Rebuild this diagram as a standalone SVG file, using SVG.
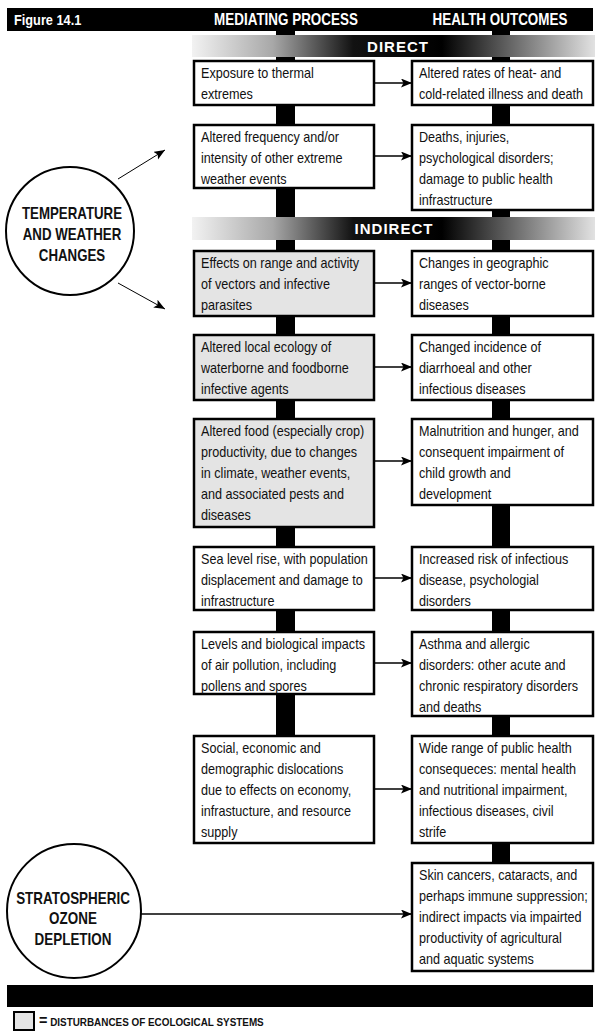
<svg xmlns="http://www.w3.org/2000/svg" width="600" height="1035" viewBox="0 0 600 1035">
<style>
.bx{stroke:#000;stroke-width:2.5;fill:#fff}
.eco{fill:#e4e4e4}
.t{font-family:"Liberation Sans",Arial,sans-serif;font-size:14.5px;fill:#111}
.hd{font-family:"Liberation Sans",Arial,sans-serif;font-weight:bold;fill:#fff}
.ct{font-family:"Liberation Sans",Arial,sans-serif;font-weight:bold;font-size:16px;fill:#111;text-anchor:middle}
.bn{font-family:"Liberation Sans",Arial,sans-serif;font-weight:bold;font-size:15px;fill:#fff;text-anchor:middle;letter-spacing:1px}
.ar{stroke:#000;stroke-width:1.4;fill:none;marker-end:url(#ah)}
.ar2{stroke:#000;stroke-width:1;fill:none;marker-end:url(#ah)}
.spine{fill:#000}
</style>
<defs>
<marker id="ah" markerUnits="userSpaceOnUse" markerWidth="12" markerHeight="10" refX="11" refY="4.5" orient="auto">
<path d="M0,0 L11,4.5 L0,9 L2.5,4.5 z" fill="#000"/>
</marker>
<linearGradient id="bg" gradientUnits="userSpaceOnUse" x1="192" y1="0" x2="595" y2="0">
<stop offset="0" stop-color="#f2f2f2"/>
<stop offset="0.2" stop-color="#a8a8a8"/>
<stop offset="0.4" stop-color="#121212"/>
<stop offset="0.62" stop-color="#000"/>
<stop offset="1" stop-color="#e2e2e2"/>
</linearGradient>
</defs>
<rect width="600" height="1035" fill="#fff"/>

<g id="connectors">
<rect class="spine" x="276" y="30" width="19" height="706"/>
<rect class="spine" x="492" y="30" width="18" height="833"/>
<line class="ar2" x1="118" y1="179" x2="165" y2="150"/>
<line class="ar2" x1="118" y1="283" x2="165" y2="309"/>
<line class="ar" x1="374" y1="83" x2="412" y2="83"/>
<line class="ar" x1="374" y1="156" x2="412" y2="156"/>
<line class="ar" x1="374" y1="283" x2="412" y2="283"/>
<line class="ar" x1="374" y1="367" x2="412" y2="367"/>
<line class="ar" x1="374" y1="461" x2="412" y2="461"/>
<line class="ar" x1="374" y1="578" x2="412" y2="578"/>
<line class="ar" x1="374" y1="663" x2="412" y2="663"/>
<line class="ar" x1="374" y1="789" x2="412" y2="789"/>
<line class="ar" x1="141" y1="914" x2="412" y2="914"/>
</g>

<g id="header">
<rect x="7" y="8" width="586" height="23" fill="#000"/>
<text class="hd" font-size="15" transform="translate(14,25) scale(0.85,1)">Figure 14.1</text>
<text class="hd" font-size="16" text-anchor="middle" transform="translate(286,25) scale(0.84,1)">MEDIATING PROCESS</text>
<text class="hd" font-size="16" text-anchor="middle" transform="translate(500,25) scale(0.84,1)">HEALTH OUTCOMES</text>
</g>

<g id="banner-direct">
<rect x="192" y="35" width="403" height="22" fill="url(#bg)"/>
<text class="bn" x="398" y="52">DIRECT</text>
</g>
<g id="banner-indirect">
<rect x="192" y="217" width="403" height="23" fill="url(#bg)"/>
<text class="bn" x="394" y="234">INDIRECT</text>
</g>

<g id="circle-temperature">
<circle cx="70" cy="231" r="64" fill="#fff" stroke="#000" stroke-width="2"/>
<text class="ct" transform="translate(72,219) scale(0.83,1)"><tspan x="0" y="0">TEMPERATURE</tspan><tspan x="0" y="21">AND WEATHER</tspan><tspan x="0" y="42">CHANGES</tspan></text>
</g>
<g id="circle-ozone">
<circle cx="74" cy="911" r="67" fill="#fff" stroke="#000" stroke-width="2"/>
<text class="ct" transform="translate(73,904) scale(0.84,1)"><tspan x="0" y="0">STRATOSPHERIC</tspan><tspan x="0" y="20.5">OZONE</tspan><tspan x="0" y="41">DEPLETION</tspan></text>
</g>

<g id="m-exposure">
<rect class="bx" x="194" y="61" width="180" height="44"/>
<text class="t" transform="translate(201,78) scale(0.87,1)"><tspan x="0" y="0">Exposure to thermal</tspan><tspan x="0" y="21">extremes</tspan></text>
</g>
<g id="m-extreme">
<rect class="bx" x="194" y="125" width="180" height="63"/>
<text class="t" transform="translate(201,142) scale(0.87,1)"><tspan x="0" y="0">Altered frequency and/or</tspan><tspan x="0" y="21">intensity of other extreme</tspan><tspan x="0" y="42">weather events</tspan></text>
</g>
<g id="m-vectors">
<rect class="bx eco" x="194" y="251" width="180" height="65"/>
<text class="t" transform="translate(201,268) scale(0.87,1)"><tspan x="0" y="0">Effects on range and activity</tspan><tspan x="0" y="21">of vectors and infective</tspan><tspan x="0" y="42">parasites</tspan></text>
</g>
<g id="m-waterborne">
<rect class="bx eco" x="194" y="335" width="180" height="65"/>
<text class="t" transform="translate(201,352) scale(0.87,1)"><tspan x="0" y="0">Altered local ecology of</tspan><tspan x="0" y="21">waterborne and foodborne</tspan><tspan x="0" y="42">infective agents</tspan></text>
</g>
<g id="m-food">
<rect class="bx eco" x="194" y="419" width="180" height="108"/>
<text class="t" transform="translate(201,436) scale(0.87,1)"><tspan x="0" y="0">Altered food (especially crop)</tspan><tspan x="0" y="21">productivity, due to changes</tspan><tspan x="0" y="42">in climate, weather events,</tspan><tspan x="0" y="63">and associated pests and</tspan><tspan x="0" y="84">diseases</tspan></text>
</g>
<g id="m-sealevel">
<rect class="bx" x="194" y="547" width="180" height="63"/>
<text class="t" transform="translate(201,564) scale(0.87,1)"><tspan x="0" y="0">Sea level rise, with population</tspan><tspan x="0" y="21">displacement and damage to</tspan><tspan x="0" y="42">infrastructure</tspan></text>
</g>
<g id="m-airpollution">
<rect class="bx" x="194" y="632" width="180" height="62"/>
<text class="t" transform="translate(201,649) scale(0.87,1)"><tspan x="0" y="0">Levels and biological impacts</tspan><tspan x="0" y="21">of air pollution, including</tspan><tspan x="0" y="42">pollens and spores</tspan></text>
</g>
<g id="m-social">
<rect class="bx" x="194" y="736" width="180" height="107"/>
<text class="t" transform="translate(201,753) scale(0.87,1)"><tspan x="0" y="0">Social, economic and</tspan><tspan x="0" y="21">demographic dislocations</tspan><tspan x="0" y="42">due to effects on economy,</tspan><tspan x="0" y="63">infrastucture, and resource</tspan><tspan x="0" y="84">supply</tspan></text>
</g>

<g id="h-heat">
<rect class="bx" x="412" y="61" width="181" height="44"/>
<text class="t" transform="translate(419,78) scale(0.87,1)"><tspan x="0" y="0">Altered rates of heat- and</tspan><tspan x="0" y="21">cold-related illness and death</tspan></text>
</g>
<g id="h-deaths">
<rect class="bx" x="412" y="125" width="181" height="85"/>
<text class="t" transform="translate(419,142) scale(0.87,1)"><tspan x="0" y="0">Deaths, injuries,</tspan><tspan x="0" y="21">psychological disorders;</tspan><tspan x="0" y="42">damage to public health</tspan><tspan x="0" y="63">infrastructure</tspan></text>
</g>
<g id="h-vectorborne">
<rect class="bx" x="412" y="251" width="181" height="65"/>
<text class="t" transform="translate(419,268) scale(0.87,1)"><tspan x="0" y="0">Changes in geographic</tspan><tspan x="0" y="21">ranges of vector-borne</tspan><tspan x="0" y="42">diseases</tspan></text>
</g>
<g id="h-diarrhoeal">
<rect class="bx" x="412" y="335" width="181" height="65"/>
<text class="t" transform="translate(419,352) scale(0.87,1)"><tspan x="0" y="0">Changed incidence of</tspan><tspan x="0" y="21">diarrhoeal and other</tspan><tspan x="0" y="42">infectious diseases</tspan></text>
</g>
<g id="h-malnutrition">
<rect class="bx" x="412" y="419" width="181" height="86"/>
<text class="t" transform="translate(419,436) scale(0.87,1)"><tspan x="0" y="0">Malnutrition and hunger, and</tspan><tspan x="0" y="21">consequent impairment of</tspan><tspan x="0" y="42">child growth and</tspan><tspan x="0" y="63">development</tspan></text>
</g>
<g id="h-infectious">
<rect class="bx" x="412" y="547" width="181" height="63"/>
<text class="t" transform="translate(419,564) scale(0.87,1)"><tspan x="0" y="0">Increased risk of infectious</tspan><tspan x="0" y="21">disease, psychologial</tspan><tspan x="0" y="42">disorders</tspan></text>
</g>
<g id="h-asthma">
<rect class="bx" x="412" y="632" width="181" height="84"/>
<text class="t" transform="translate(419,649) scale(0.87,1)"><tspan x="0" y="0">Asthma and allergic</tspan><tspan x="0" y="21">disorders: other acute and</tspan><tspan x="0" y="42">chronic respiratory disorders</tspan><tspan x="0" y="63">and deaths</tspan></text>
</g>
<g id="h-publichealth">
<rect class="bx" x="412" y="736" width="181" height="107"/>
<text class="t" transform="translate(419,753) scale(0.87,1)"><tspan x="0" y="0">Wide range of public health</tspan><tspan x="0" y="21">consequeces: mental health</tspan><tspan x="0" y="42">and nutritional impairment,</tspan><tspan x="0" y="63">infectious diseases, civil</tspan><tspan x="0" y="84">strife</tspan></text>
</g>
<g id="h-skin">
<rect class="bx" x="412" y="863" width="181" height="108"/>
<text class="t" transform="translate(419,880) scale(0.87,1)"><tspan x="0" y="0">Skin cancers, cataracts, and</tspan><tspan x="0" y="21">perhaps immune suppression;</tspan><tspan x="0" y="42">indirect impacts via impairted</tspan><tspan x="0" y="63">productivity of agricultural</tspan><tspan x="0" y="84">and aquatic systems</tspan></text>
</g>

<g id="footer">
<rect x="7" y="985" width="586" height="22" fill="#000"/>
<rect x="14" y="1012" width="20" height="18" fill="#e4e4e4" stroke="#000" stroke-width="2"/>
<text font-family="Liberation Sans,Arial,sans-serif" font-weight="bold" font-size="11" fill="#111" transform="translate(39,1026) scale(0.9,1)"><tspan font-size="16">=</tspan> DISTURBANCES OF ECOLOGICAL SYSTEMS</text>
</g>
</svg>
